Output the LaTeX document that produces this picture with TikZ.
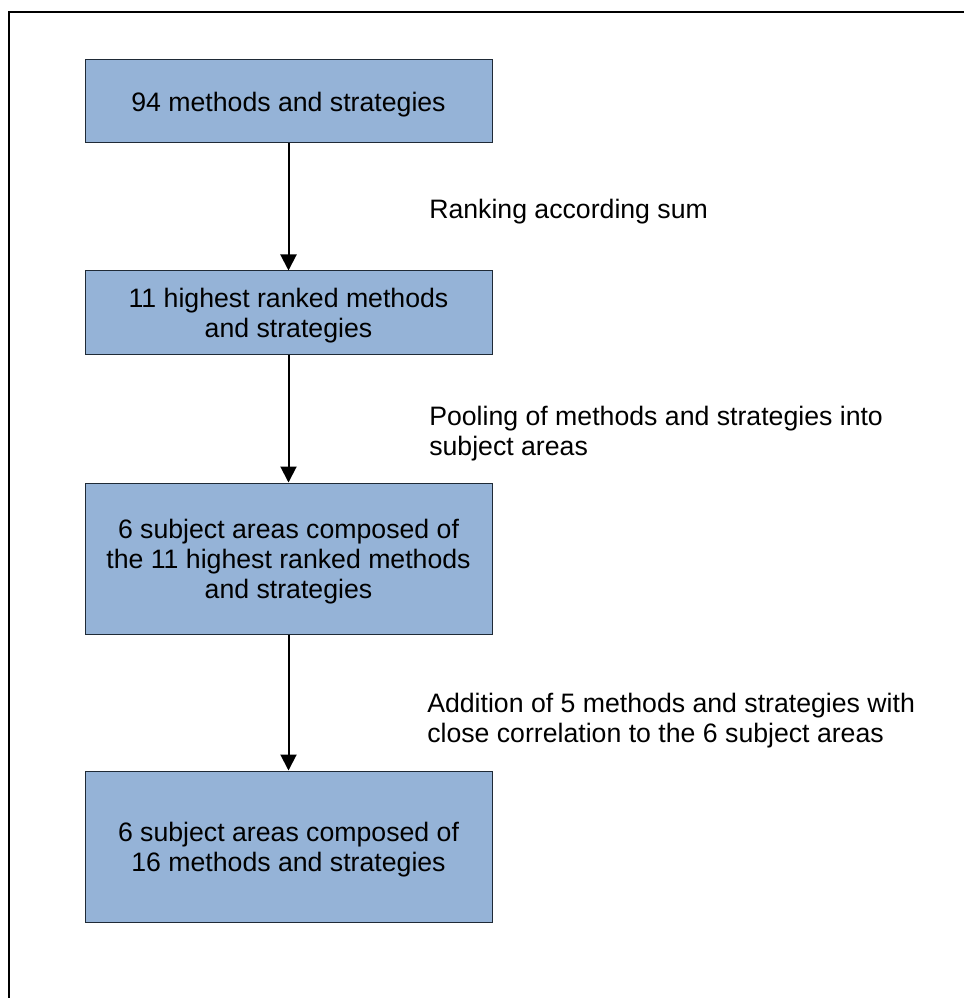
\documentclass[tikz,border=0pt]{standalone}
\usepackage{fontspec}
\setmainfont{Liberation Sans}
\usetikzlibrary{arrows.meta}
\definecolor{boxfill}{HTML}{95B3D7}
\definecolor{boxline}{HTML}{1F2A36}
% lowers one line of box text a little, keeping its nominal height and depth
\newcommand{\boxline}[1]{\raisebox{-2.25pt}[\height][\depth]{#1}}
\begin{document}
\begin{tikzpicture}[x=0.75pt,y=-0.75pt,
  every node/.style={font=\fontsize{20}{22.5}\selectfont, inner sep=0pt},
  stage/.style={draw=boxline, line width=0.75pt, fill=boxfill,
    align=center, minimum width=407*0.75pt},
  short/.style={stage, minimum height=83*0.75pt},
  tall/.style={stage, minimum height=151*0.75pt},
  note/.style={anchor=west, align=left},
  flow/.style={line width=1.5pt, -{Triangle[width=12pt,length=12pt]}},
  frame/.style={line width=1.7pt}]
  \useasboundingbox (0,0) rectangle (963,998);

  % outer frame, running past the right and bottom edges
  \coordinate (fa) at (9,1010);
  \coordinate (fb) at (9,12);
  \coordinate (fc) at (975,12);
  \draw[frame] (fa) -- (fb) -- (fc);

  % the four stages
  \node[short] (s1) at (288.5,101.5) {\boxline{94 methods and strategies}};
  \node[short] (s2) at (288.5,312.5) {\boxline{11 highest ranked methods}\\\boxline{and strategies}};
  \node[tall]  (s3) at (288.5,558.5) {\boxline{6 subject areas composed of}\\\boxline{the 11 highest ranked methods}\\\boxline{and strategies}};
  \node[tall]  (s4) at (288.5,846.5) {\boxline{6 subject areas composed of}\\\boxline{16 methods and strategies}};

  % connectors between stages
  \draw[flow] (s1) -- (s2);
  \draw[flow] (s2) -- (s3);
  \draw[flow] (s3) -- (s4);

  % step descriptions
  \node[note] (n1) at (429,211.5) {Ranking according sum};
  \node[note] (n2) at (429,434) {Pooling of methods and strategies into\\subject areas};
  \node[note] (n3) at (427,721) {Addition of 5 methods and strategies with\\close correlation to the 6 subject areas};
\end{tikzpicture}
\end{document}
